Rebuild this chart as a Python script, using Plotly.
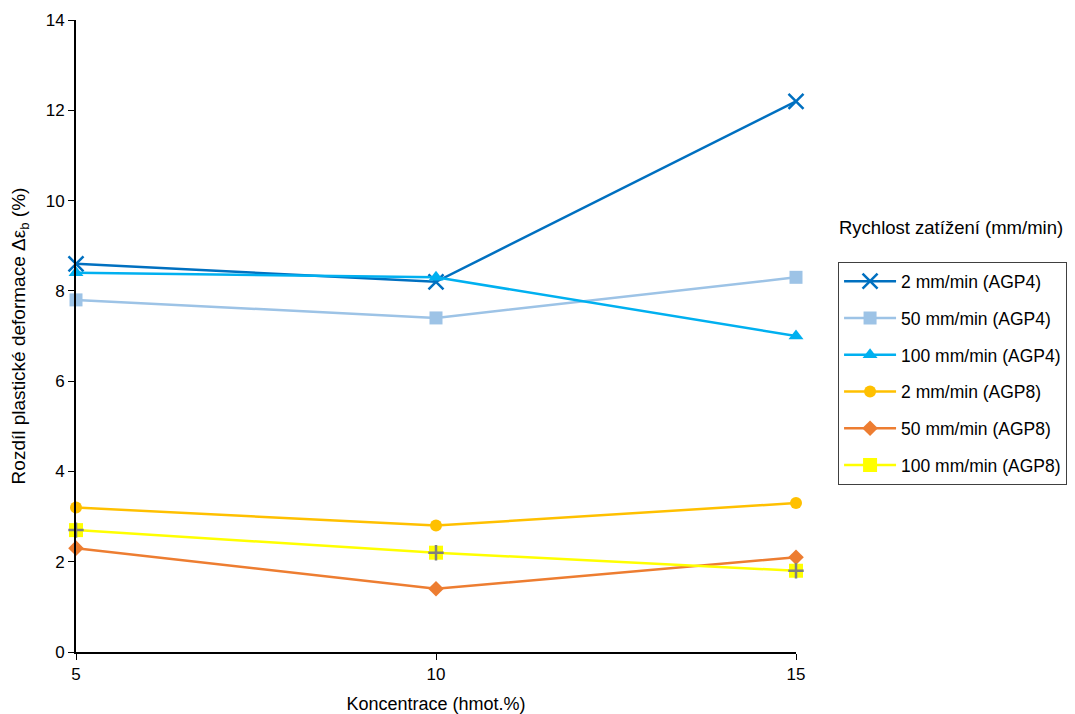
import plotly.graph_objects as go

conc = [5, 10, 15]
series_names = ["2 mm/min (AGP4)", "50 mm/min (AGP4)", "100 mm/min (AGP4)",
                "2 mm/min (AGP8)", "50 mm/min (AGP8)", "100 mm/min (AGP8)"]
v_2_agp4 = [8.6, 8.2, 12.2]
v_50_agp4 = [7.8, 7.4, 8.3]
v_100_agp4 = [8.4, 8.3, 7.0]
v_2_agp8 = [3.2, 2.8, 3.3]
v_50_agp8 = [2.3, 1.4, 2.1]
v_100_agp8 = [2.7, 2.2, 1.8]
values = [v_2_agp4, v_50_agp4, v_100_agp4, v_2_agp8, v_50_agp8, v_100_agp8]

colors = ["#0070C0", "#9DC3E6", "#00B0F0", "#FFC000", "#ED7D31", "#FFFF00"]
symbols = ["x-thin", "square", "triangle-up", "circle", "diamond", "square"]
sizes = [15, 13, 13, 12, 12, 14]

fig = go.Figure()
for i, (name, vals) in enumerate(zip(series_names, values)):
    marker = dict(symbol=symbols[i], size=sizes[i], color=colors[i])
    if symbols[i] == "x-thin":
        marker["line"] = dict(color=colors[i], width=2.5)
    fig.add_trace(go.Scatter(
        x=conc, y=vals, name=name, mode="lines+markers",
        line=dict(color=colors[i], width=2.5),
        marker=marker, cliponaxis=False, legendgroup=f"g{i}"))

# plus overlay for AGP8 100 mm/min
fig.add_trace(go.Scatter(
    x=conc, y=v_100_agp8, mode="markers", showlegend=False,
    marker=dict(symbol="cross-thin", size=11, color="#7F7F7F",
                line=dict(color="#7F7F7F", width=2.5)),
    cliponaxis=False, legendgroup="g5", hoverinfo="skip"))

font_family = "Liberation Sans, Arial, sans-serif"
fig.update_layout(
    width=1075, height=714,
    margin=dict(l=68, r=287, t=12, b=70, autoexpand=False),
    paper_bgcolor="white", plot_bgcolor="white",
    font=dict(family=font_family, size=17, color="black"),
    showlegend=True,
    legend=dict(x=1.058, y=0.617, xanchor="left", yanchor="top",
                bordercolor="#404040", borderwidth=1.3,
                font=dict(size=17.5, color="black"),
                tracegroupgap=11, itemwidth=52),
    annotations=[dict(text="Rychlost zatížení (mm/min)", xref="paper", yref="paper",
                      x=1.057, y=0.671, xanchor="left", yanchor="middle",
                      showarrow=False, font=dict(size=18.5, color="black"))],
)
fig.update_xaxes(range=[5, 15], tickvals=conc, ticks="outside", ticklen=6,
                 showline=True, linecolor="black", linewidth=2, tickcolor="black",
                 showgrid=False, zeroline=False, tickfont=dict(size=17), automargin=False,
                 title=dict(text="Koncentrace (hmot.%)", font=dict(size=18), standoff=14))
fig.update_yaxes(range=[0, 14], dtick=2, ticks="outside", ticklen=6,
                 showline=True, linecolor="black", linewidth=2, tickcolor="black",
                 showgrid=False, zeroline=False, tickfont=dict(size=17), automargin=False,
                 title=dict(text="Rozdíl plastické deformace Δε<sub>b</sub> (%)",
                            font=dict(size=19), standoff=18))

fig.write_html("out.html")
